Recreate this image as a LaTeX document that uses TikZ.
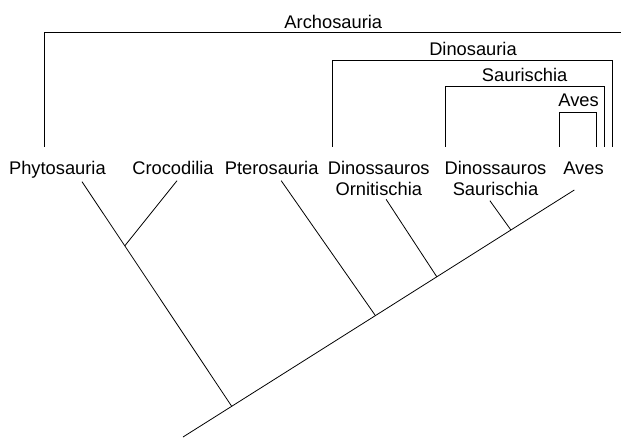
\documentclass[tikz,border=0pt]{standalone}
\usepackage{fontspec}
\setmainfont{Liberation Sans}
\begin{document}
\begin{tikzpicture}[x=1pt, y=-1pt, line width=0.8pt,
    every node/.style={font=\fontsize{18.3}{20.7}\selectfont, inner sep=0pt, anchor=base, align=center}]
    \useasboundingbox (0,0) rectangle (621,437);
    % taxa (two-line labels sit on the baseline of their second line)
    \node (phyto) at (57.4,174.3) {Phytosauria};
    \node (croco) at (173,174.3) {Crocodilia};
    \node (ptero) at (271.7,174.3) {Pterosauria};
    \node (orni) at (378.8,195) {Dinossauros\\Ornitischia};
    \node (sauri) at (495.5,195) {Dinossauros\\Saurischia};
    \node (aves) at (583.5,174.3) {Aves};
    % clade labels
    \node (archoL) at (333.3,28.3) {Archosauria};
    \node (dinoL) at (473,55.5) {Dinosauria};
    \node (sauriL) at (524.7,81.5) {Saurischia};
    \node (avesL) at (578.6,106) {Aves};
    % tree
    \coordinate (root) at (183,437);
    \coordinate (j1) at (231.7,406.3);
    \coordinate (j2) at (375.4,315.6);
    \coordinate (j3) at (436.8,276.8);
    \coordinate (j4) at (510.9,230);
    \coordinate (jc) at (124.8,245.8);
    \coordinate (tphyto) at (82,181.7);
    \coordinate (tcroco) at (177,180.7);
    \coordinate (tptero) at (281.2,180.7);
    \coordinate (torni) at (386.1,199.3);
    \coordinate (tsauri) at (489.9,200.7);
    \coordinate (taves) at (574.3,190);
    \draw (root) -- (j1) -- (j2) -- (j3) -- (j4) -- (taves);
    \draw (j1) -- (jc) -- (tphyto);
    \draw (jc) -- (tcroco);
    \draw (j2) -- (tptero);
    \draw (j3) -- (torni);
    \draw (j4) -- (tsauri);
    % brackets
    \draw (44,146.7) |- (621,32.7);
    \draw (332,146.7) |- (612.7,60.7) -- (612.7,146.7);
    \draw (445.5,146.7) |- (604,86.7) -- (604,146.7);
    \draw (559.6,146.7) |- (596,112) -- (596,146.7);
\end{tikzpicture}
\end{document}
